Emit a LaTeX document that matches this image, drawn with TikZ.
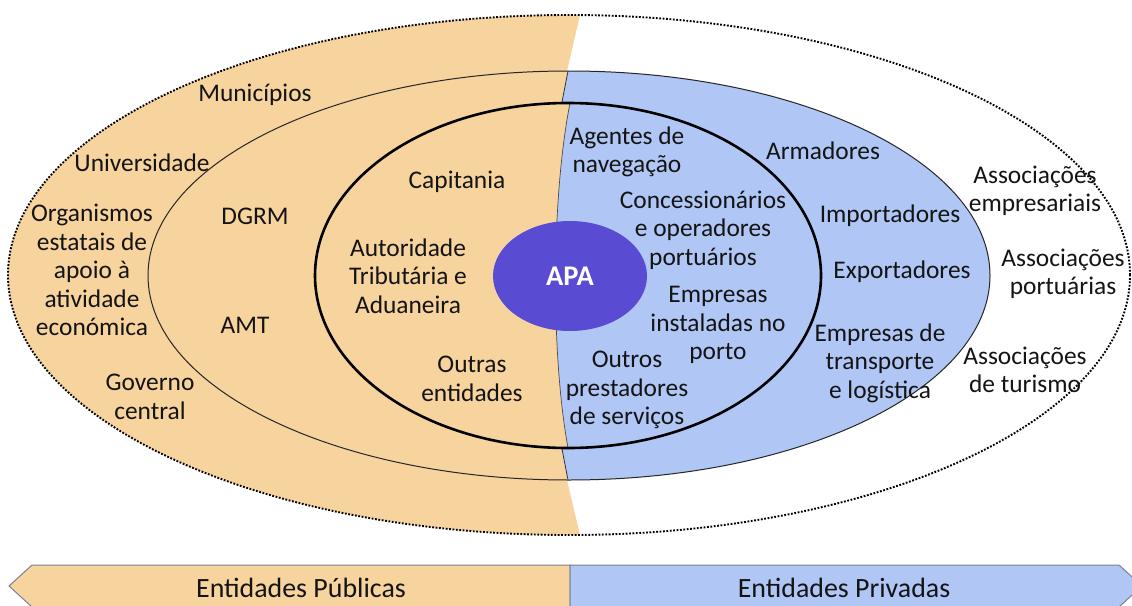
\documentclass[tikz,border=0pt]{standalone}
\usepackage{fontspec}
\setmainfont{Carlito}
\definecolor{ptan}{RGB}{247,211,158}
\definecolor{pblue}{RGB}{176,198,245}
\definecolor{apacol}{RGB}{89,76,211}
\definecolor{arrgray}{RGB}{120,130,150}
\definecolor{txt}{RGB}{20,20,20}
\begin{document}
\begin{tikzpicture}[x=1pt,y=-1pt,
  lbl/.style={font=\fontsize{25.4}{28.5}\selectfont, align=center, inner sep=0pt, text=txt},
  arrlbl/.style={font=\fontsize{27.9}{30}\selectfont, inner sep=0pt, text=txt},
  arrshape/.style={draw=arrgray, line width=1pt},
  sepline/.style={draw=black!80, line width=0.8pt}]
\useasboundingbox (0,0) rectangle (1132,605);
% outer ring
\begin{scope}
  \clip (569,275) ellipse [x radius=561pt, y radius=260pt];
  \fill[white] (0,0) rectangle (1132,560);
  \fill[ptan] (0,0) -- (583.5,0) -- (580,15) -- (567,71) -- (567,480) -- (580,535) -- (583.5,550) -- (0,550) -- cycle;
\end{scope}
% middle ring
\begin{scope}
  \clip (569,275.5) ellipse [x radius=421pt, y radius=204.5pt];
  \fill[pblue] (570,60) -- (568,71) -- (562,102) -- (562,449) -- (568,480) -- (570,490) -- (1000,490) -- (1000,60) -- cycle;
\end{scope}
\draw[sepline] (568,71) -- (562,102);
\draw[sepline] (562,449) -- (568,480);
% inner
\begin{scope}
  \clip (568,275.5) ellipse [x radius=253pt, y radius=172.5pt];
  \fill[ptan] (300,90) rectangle (830,460);
  \fill[pblue] (570,100) -- (570,103) .. controls (551,200) and (551,355) .. (568,448) -- (568,452) -- (830,452) -- (830,100) -- cycle;
  \draw[draw=black!70, line width=0.7pt] (570,103) .. controls (551,200) and (551,355) .. (568,448);
\end{scope}
% borders
\draw[black, line width=1.9pt, dash pattern=on 1.8pt off 1.6pt] (569,275) ellipse [x radius=561pt, y radius=260pt];
\draw[black!85, line width=1pt] (569,275.5) ellipse [x radius=421pt, y radius=204.5pt];
\draw[black, line width=2.6pt] (568,275.5) ellipse [x radius=253pt, y radius=172.5pt];
% APA
\fill[apacol] (570,276) ellipse [x radius=77pt, y radius=55pt];
\node[font=\fontsize{28.5}{32}\selectfont\bfseries, text=white, inner sep=0pt] (apa) at (570,276) {APA};
% public labels
\node[lbl] (mun) at (255,95) {Municípios};
\node[lbl] (uni) at (142,163) {Universidade};
\node[lbl] (org) at (92,270) {Organismos\\estatais de\\apoio à\\atividade\\económica};
\node[lbl] (gov) at (150,397) {Governo\\central};
\node[lbl] (dgrm) at (255,216) {DGRM};
\node[lbl] (amt) at (245,325) {AMT};
\node[lbl] (cap) at (457,182) {Capitania};
\node[lbl] (aut) at (408,276) {Autoridade\\Tributária e\\Aduaneira};
\node[lbl] (out) at (472,379) {Outras\\entidades};
% private labels
\node[lbl] (age) at (627,152) {Agentes de\\navegação};
\node[lbl] (arm) at (823,151) {Armadores};
\node[lbl] (con) at (703,230) {Concessionários\\e operadores\\portuários};
\node[lbl] (imp) at (890,216) {Importadores};
\node[lbl] (exp) at (902,272) {Exportadores};
\node[lbl] (emp) at (718,325) {Empresas\\instaladas no\\porto};
\node[lbl] (opr) at (627,390) {Outros\\prestadores\\de serviços};
\node[lbl] (etl) at (880,363) {Empresas de\\transporte\\e logística};
\node[lbl] (ae) at (1035,191) {Associações\\empresariais};
\node[lbl] (ap) at (1063,274) {Associações\\portuárias};
\node[lbl] (at) at (1025,370) {Associações\\de turismo};
% bottom arrows
\path[arrshape, fill=ptan] (570,565) -- (32,565) -- (9,586) -- (32,607) -- (570,607) -- cycle;
\path[arrshape, fill=pblue] (570,565) -- (1119,565) -- (1142,586) -- (1119,607) -- (570,607) -- cycle;
\node[arrlbl] (pub) at (301,588) {Entidades Públicas};
\node[arrlbl] (priv) at (844,588) {Entidades Privadas};
\end{tikzpicture}
\end{document}
